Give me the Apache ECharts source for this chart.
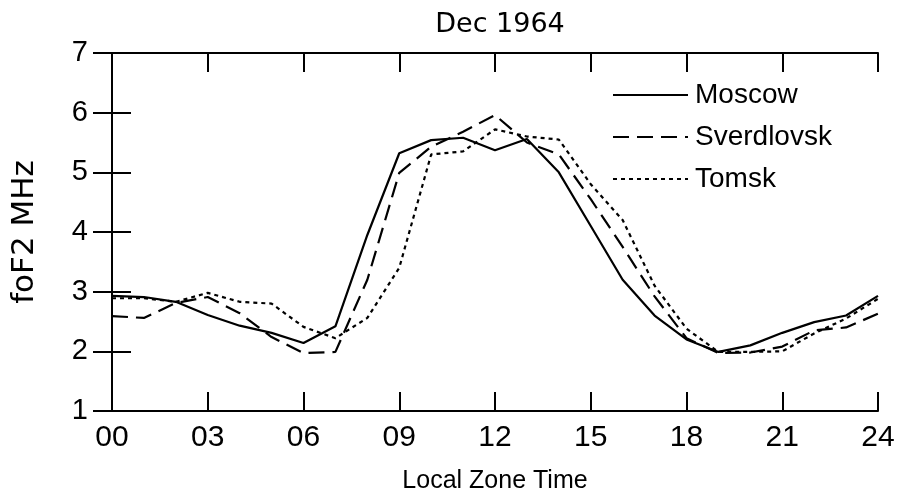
<!DOCTYPE html>
<html>
<head>
<meta charset="utf-8">
<script src="https://cdn.jsdelivr.net/npm/echarts@6/dist/echarts.min.js"></script>
<style>
html,body{margin:0;padding:0;background:#fff;}
#chart{width:900px;height:499px;}
</style>
</head>
<body>
<div id="chart"></div>
<script>
var hours = [0,1,2,3,4,5,6,7,8,9,10,11,12,13,14,15,16,17,18,19,20,21,22,23,24];
var xTickLabels = {0:'00',3:'03',6:'06',9:'09',12:'12',15:'15',18:'18',21:'21',24:'24'};
var moscow =     [2.93,2.91,2.83,2.61,2.43,2.31,2.14,2.42,3.95,5.32,5.54,5.58,5.37,5.56,5.00,4.10,3.20,2.60,2.20,1.99,2.10,2.31,2.49,2.60,2.93];
var sverdlovsk = [2.59,2.56,2.81,2.91,2.64,2.24,1.97,1.99,3.20,4.99,5.43,5.68,5.96,5.50,5.30,4.55,3.75,2.92,2.22,1.97,1.98,2.08,2.35,2.40,2.63];
var tomsk =      [2.89,2.89,2.83,2.98,2.83,2.80,2.41,2.22,2.56,3.40,5.30,5.35,5.72,5.60,5.55,4.80,4.20,3.10,2.38,1.99,1.99,2.00,2.30,2.55,2.88];
var seriesNames = ['Moscow','Sverdlovsk','Tomsk'];

function pairs(vals){ return hours.map(function(h,i){ return [h, vals[i]]; }); }

var FONT = 'Liberation Sans';
var WIDE = 'DejaVu Sans';
var chart = echarts.init(document.getElementById('chart'), null, {renderer:'canvas'});
var tickStyle = {show:true, inside:true, length:19, lineStyle:{color:'#000', width:2}};
chart.setOption({
  backgroundColor:'#fff',
  animation:false,
  title:{
    text:'Dec 1964', left:495, top:6, textAlign:'center',
    textStyle:{fontFamily:WIDE, fontSize:27, fontWeight:'normal', color:'#000'}
  },
  legend:{
    orient:'vertical', left:607, top:76, itemWidth:75, itemHeight:28, itemGap:14,
    data:seriesNames,
    itemStyle:{opacity:0},
    textStyle:{fontFamily:FONT, fontSize:28, lineHeight:28, color:'#000', padding:[0,0,0,2]}
  },
  grid:{left:112, right:22, top:53, bottom:88},
  xAxis:[{
    type:'value', min:0, max:24, interval:3,
    name:'Local Zone Time', nameLocation:'middle', nameGap:58,
    nameTextStyle:{fontFamily:FONT, fontSize:25, color:'#000'},
    axisLine:{lineStyle:{color:'#000', width:2}},
    axisTick:tickStyle,
    axisLabel:{margin:12, fontFamily:FONT, fontSize:30, color:'#000',
      formatter:function(v){ return xTickLabels[v] !== undefined ? xTickLabels[v] : ''; }},
    splitLine:{show:false}
  },{
    type:'value', min:0, max:24, interval:3, position:'top',
    axisLine:{show:true, lineStyle:{color:'#000', width:2}},
    axisTick:tickStyle, axisLabel:{show:false}, splitLine:{show:false}
  }],
  yAxis:[{
    type:'value', min:1, max:7, interval:1,
    name:'foF2 MHz', nameLocation:'middle', nameGap:72, nameRotate:90,
    nameTextStyle:{fontFamily:WIDE, fontSize:31, color:'#000'},
    axisLine:{show:true, lineStyle:{color:'#000', width:2}},
    axisTick:tickStyle,
    axisLabel:{margin:24, fontFamily:FONT, fontSize:29, color:'#000'},
    splitLine:{show:false}
  },{
    type:'value', min:1, max:7, interval:1, position:'right',
    axisLine:{show:true, lineStyle:{color:'#000', width:2}},
    axisTick:tickStyle, axisLabel:{show:false}, splitLine:{show:false}
  }],
  series:[
    {name:'Moscow', type:'line', data:pairs(moscow), symbol:'none', showSymbol:false,
     lineStyle:{color:'#000', width:2.2, type:'solid'}, itemStyle:{color:'#000'}},
    {name:'Sverdlovsk', type:'line', data:pairs(sverdlovsk), symbol:'none', showSymbol:false,
     lineStyle:{color:'#000', width:2.2, type:[16,8]}, itemStyle:{color:'#000'}},
    {name:'Tomsk', type:'line', data:pairs(tomsk), symbol:'none', showSymbol:false,
     lineStyle:{color:'#000', width:2.2, type:[4,4]}, itemStyle:{color:'#000'}}
  ]
});
</script>
</body>
</html>
